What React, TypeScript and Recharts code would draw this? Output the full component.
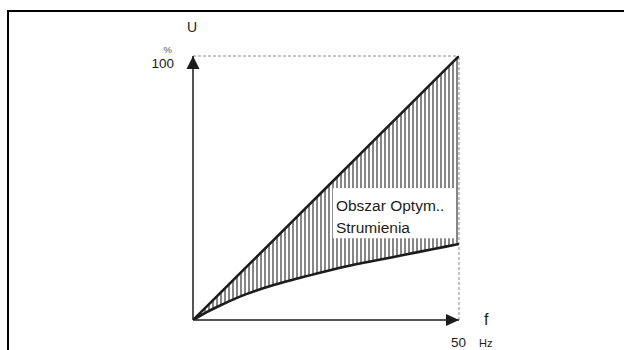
import React from 'react';
import {
  ComposedChart,
  Area,
  Line,
  XAxis,
  YAxis,
  ReferenceLine,
  ReferenceArea,
  ReferenceDot,
} from 'recharts';

// frequency (Hz) and voltage (% of nominal)
const freqHz = [0, 2.5, 5, 10, 15, 20, 25, 30, 35, 40, 45, 50];
const linearU = [0, 5, 10, 20, 30, 40, 50, 60, 70, 80, 90, 100];
const optimU = [0, 2.9, 5.4, 9.8, 13.2, 15.9, 18.5, 20.8, 22.8, 24.8, 26.8, 28.8];

const boxLines = ['Obszar Optym..', 'Strumienia'];

const data = freqHz.map((f, i) => ({
  f,
  linear: linearU[i],
  optim: optimU[i],
  band: [optimU[i], linearU[i]],
}));

const FONT = '"Liberation Sans", Arial, sans-serif';
const INK = '#1c1c1c';

const UpArrow = (p: any) => (
  <path d={`M${p.cx},${p.cy} L${p.cx - 6.5},${p.cy + 13} L${p.cx + 6.5},${p.cy + 13} Z`} fill={INK} />
);

const RightArrow = (p: any) => (
  <path d={`M${p.cx},${p.cy} L${p.cx - 13},${p.cy - 6} L${p.cx - 13},${p.cy + 6} Z`} fill={INK} />
);

const App: React.FC = () => {
  return (
    <div style={{ position: 'absolute', left: 0, top: 0, width: 624, height: 350, background: '#fff' }}>
      {/* frame, only top and left edges are visible */}
      <div
        style={{
          position: 'absolute',
          left: 7,
          top: 10,
          width: 640,
          height: 360,
          borderTop: '2.5px solid #000',
          borderLeft: '2.5px solid #000',
        }}
      />
      <ComposedChart
        width={624}
        height={350}
        data={data}
        margin={{ top: 56, right: 165, bottom: 30, left: 193 }}
        style={{ position: 'absolute', left: 0, top: 0, fontFamily: FONT }}
      >
        <defs>
          <pattern id="hatch" patternUnits="userSpaceOnUse" width="4" height="4">
            <line x1="1" y1="0" x2="1" y2="4" stroke="#222" strokeWidth="1.1" />
          </pattern>
        </defs>
        <XAxis dataKey="f" type="number" domain={[0, 50]} hide allowDataOverflow />
        <YAxis type="number" domain={[0, 100]} hide allowDataOverflow />

        <ReferenceLine y={100} stroke="#8a8a8a" strokeDasharray="3 2" strokeWidth={1} />
        <ReferenceLine x={50} stroke="#8a8a8a" strokeDasharray="3 2" strokeWidth={1} />

        <Area
          dataKey="band"
          type="monotone"
          stroke="none"
          fill="url(#hatch)"
          fillOpacity={1}
          isAnimationActive={false}
        />

        <ReferenceArea x1={26.3} x2={49.1} y1={31} y2={50} fill="#fff" fillOpacity={1} stroke="none" />

        <Line dataKey="linear" type="linear" stroke={INK} strokeWidth={2.6} dot={false} isAnimationActive={false} />
        <Line dataKey="optim" type="monotone" stroke={INK} strokeWidth={2.6} dot={false} isAnimationActive={false} />

        <ReferenceLine x={0} stroke={INK} strokeWidth={1.5} />
        <ReferenceLine y={0} stroke={INK} strokeWidth={1.5} />
        <ReferenceDot x={0} y={100} r={0} shape={UpArrow} />
        <ReferenceDot x={50} y={0} r={0} shape={RightArrow} />

        {/* axis captions */}
        <ReferenceDot
          x={0}
          y={100}
          r={0}
          shape={(p: any) => (
            <g fontFamily={FONT}>
              <text x={p.cx - 1} y={p.cy - 24} fontSize={14} fill={INK} textAnchor="middle">U</text>
              <text x={p.cx - 21} y={p.cy - 3} fontSize={9.5} fill="#555" textAnchor="end">%</text>
              <text x={p.cx - 19} y={p.cy + 12} fontSize={13.5} fill={INK} textAnchor="end">100</text>
            </g>
          )}
        />
        <ReferenceDot
          x={50}
          y={0}
          r={0}
          shape={(p: any) => (
            <g fontFamily={FONT}>
              <text x={p.cx + 25} y={p.cy + 5} fontSize={16} fill={INK}>f</text>
              <text x={p.cx - 8} y={p.cy + 27} fontSize={13.5} fill={INK}>50</text>
              <text x={p.cx + 20} y={p.cy + 27} fontSize={11} fill={INK}>Hz</text>
            </g>
          )}
        />
        <ReferenceDot
          x={26.3}
          y={50}
          r={0}
          shape={(p: any) => (
            <g fontFamily={FONT} fontSize={15.5} fill={INK}>
              {boxLines.map((t, i) => (
                <text key={t} x={p.cx + 3} y={p.cy + 23 + i * 22}>{t}</text>
              ))}
            </g>
          )}
        />
      </ComposedChart>
    </div>
  );
};

export default App;
